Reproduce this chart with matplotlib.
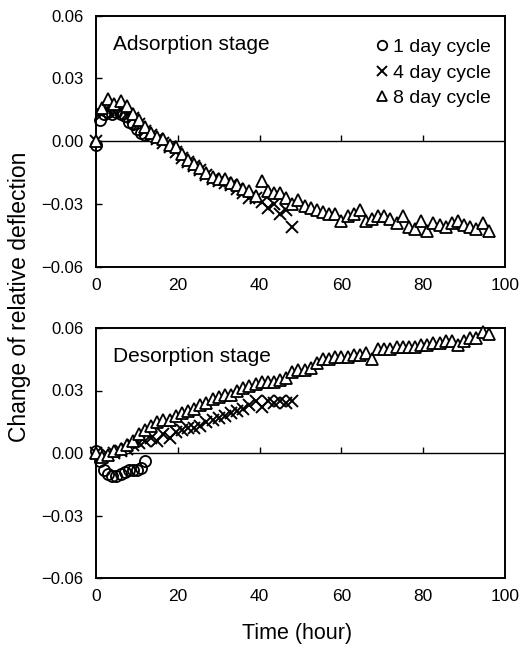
import numpy as np
import matplotlib
matplotlib.use("Agg")
import matplotlib.pyplot as plt

plt.rcParams['font.family'] = ['Liberation Sans', 'DejaVu Sans']

# ---------------- data ----------------
t_1day = [0, 1, 2, 3, 4, 5, 6, 7, 8, 9, 10, 11, 12]
t_4day = list(np.arange(0, 48.01, 1.5))
t_8day = list(np.arange(0, 96.01, 1.5))

ads_1day = [-0.002, 0.010, 0.013, 0.014, 0.013, 0.014, 0.013, 0.012, 0.009, 0.008, 0.006, 0.004, 0.003]
ads_4day = [0.000, 0.013, 0.015, 0.014, 0.015, 0.013, 0.011, 0.008, 0.005, 0.003, 0.001,
            -0.001, -0.003, -0.005, -0.008, -0.010, -0.012, -0.014, -0.016, -0.018, -0.019,
            -0.020, -0.021, -0.023, -0.025, -0.027, -0.027, -0.029, -0.032, -0.030, -0.035,
            -0.033, -0.041]
ads_8day = [0.000, 0.016, 0.020, 0.018, 0.019, 0.017, 0.013, 0.010, 0.007, 0.004, 0.002,
            0.001, -0.002, -0.003, -0.006, -0.009, -0.011, -0.013, -0.015, -0.017, -0.018,
            -0.018, -0.020, -0.021, -0.023, -0.024, -0.026, -0.019, -0.024, -0.025, -0.025,
            -0.027, -0.030, -0.028, -0.031, -0.032, -0.033, -0.034, -0.035, -0.035, -0.038,
            -0.036, -0.035, -0.033, -0.038, -0.037, -0.036, -0.036, -0.037, -0.039, -0.036,
            -0.041, -0.042, -0.038, -0.043, -0.039, -0.040, -0.041, -0.039, -0.038, -0.040,
            -0.041, -0.042, -0.039, -0.043]

des_1day = [0.001, -0.004, -0.008, -0.010, -0.011, -0.011, -0.010, -0.009, -0.008, -0.008, -0.008, -0.007, -0.004]
des_4day = [0.000, -0.002, -0.001, 0.000, 0.001, 0.002, 0.004, 0.005, 0.006, 0.007, 0.006,
            0.009, 0.007, 0.010, 0.011, 0.012, 0.012, 0.013, 0.015, 0.016, 0.017,
            0.018, 0.019, 0.020, 0.021, 0.023, 0.025, 0.022, 0.025, 0.024, 0.025,
            0.024, 0.025]
des_8day = [0.000, -0.002, -0.001, 0.001, 0.002, 0.004, 0.006, 0.009, 0.011, 0.013, 0.015,
            0.016, 0.016, 0.018, 0.019, 0.020, 0.021, 0.023, 0.024, 0.026, 0.027,
            0.028, 0.028, 0.030, 0.031, 0.032, 0.033, 0.034, 0.034, 0.034, 0.035,
            0.036, 0.039, 0.040, 0.040, 0.041, 0.043, 0.045, 0.045, 0.046, 0.046,
            0.046, 0.047, 0.047, 0.048, 0.045, 0.050, 0.050, 0.050, 0.051, 0.051,
            0.051, 0.051, 0.052, 0.052, 0.053, 0.053, 0.054, 0.054, 0.052, 0.054,
            0.055, 0.055, 0.058, 0.057]

x_ticks = [0, 20, 40, 60, 80, 100]
y_ticks = [-0.06, -0.03, 0.00, 0.03, 0.06]
y_ticklabels = ['\u22120.06', '\u22120.03', '0.00', '0.03', '0.06']
series_labels = ['1 day cycle', '4 day cycle', '8 day cycle']
panel_titles = ['Adsorption stage', 'Desorption stage']

# ---------------- figure ----------------
W, H = 519, 651
fig = plt.figure(figsize=(W / 100, H / 100), dpi=100)
ax1 = fig.add_axes([96 / W, 1 - 266.7 / H, 409 / W, 251 / H])
ax2 = fig.add_axes([96 / W, 1 - 578 / H, 409 / W, 250 / H])

ms = 8
for ax, d1, d4, d8, title in [(ax1, ads_1day, ads_4day, ads_8day, panel_titles[0]),
                              (ax2, des_1day, des_4day, des_8day, panel_titles[1])]:
    ax.plot(t_1day, d1, linestyle='none', marker='o', markersize=ms, markerfacecolor='none',
            markeredgecolor='black', markeredgewidth=1.3, label=series_labels[0], clip_on=False, zorder=3)
    ax.plot(t_4day, d4, linestyle='none', marker='x', markersize=ms, markeredgecolor='black',
            markeredgewidth=1.4, label=series_labels[1], clip_on=False, zorder=3)
    ax.plot(t_8day, d8, linestyle='none', marker='^', markersize=ms + 0.5, markerfacecolor='white',
            markeredgecolor='black', markeredgewidth=1.3, label=series_labels[2], clip_on=False, zorder=4)
    ax.axhline(0, color='black', linewidth=1.0, zorder=1)
    ax.set_xlim(0, 100)
    ax.set_ylim(-0.06, 0.06)
    ax.set_xticks(x_ticks)
    ax.set_yticks(y_ticks)
    ax.set_yticklabels(y_ticklabels)
    ax.tick_params(axis='x', length=0, pad=8, labelsize=12.5)
    ax.tick_params(axis='y', direction='in', length=4, width=1, pad=9, labelsize=12)
    for s in ax.spines.values():
        s.set_linewidth(1.4)
    sec = ax.secondary_xaxis(0.5)
    sec.set_xticks(x_ticks[1:-1])
    sec.set_xticklabels([])
    sec.tick_params(axis='x', direction='out', length=4, width=1,
                    labeltop=False, labelbottom=False)
    for s in sec.spines.values():
        s.set_visible(False)
    ax.text(0.042, 0.885, title, transform=ax.transAxes, fontsize=15, ha='left', va='center')

leg = ax1.legend(loc='upper right', bbox_to_anchor=(0.995, 0.955), frameon=False, fontsize=14,
                 handlelength=0.6, handletextpad=0.3, labelspacing=0.4, markerscale=0.85,
                 borderaxespad=0.2)

fig.text(20 / W, 1 - 296.5 / H, 'Change of relative deflection', rotation=90,
         ha='center', va='center', fontsize=16.5)
fig.text(297 / W, 1 - 633 / H, 'Time (hour)', ha='center', va='center', fontsize=15.5)

fig.savefig('out.png', dpi=100)
